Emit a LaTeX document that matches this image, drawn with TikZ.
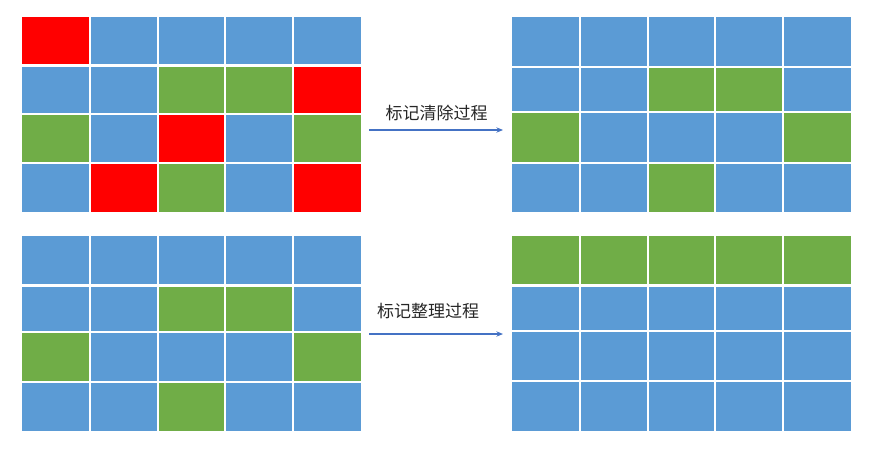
\documentclass[tikz,border=0pt]{standalone}
\usepackage{fontspec}
\newfontfamily\cjk{Noto Sans CJK SC}
\usetikzlibrary{arrows.meta}
\definecolor{cB}{HTML}{5B9BD5}
\definecolor{cG}{HTML}{70AD47}
\definecolor{cR}{HTML}{FF0000}
\definecolor{arr}{HTML}{4472C4}
\newcommand\gridrow[4]{\foreach \c [count=\i] in {#4}{\fill[\c] ({#1+(\i-1)*67.8},#2) rectangle ({#1+\i*67.8},#3);}}
\newcommand\gridlines[6]{%
 \foreach \i in {1,...,4}{\draw[cellsep] ({#1+\i*67.8},#2) -- ({#1+\i*67.8},#6);}
 \draw[cellsep,line width=2.2pt] (#1,#3) -- ++(339,0);
 \draw[cellsep] (#1,#4) -- ++(339,0);
 \draw[cellsep] (#1,#5) -- ++(339,0);
}
\begin{document}
\begin{tikzpicture}[x=0.75pt,y=-0.75pt,
  cellsep/.style={white,line width=1.5pt},
  flow/.style={arr,line width=0.8pt,-{Stealth[length=5pt,width=4pt]}},
  lbl/.style={font=\cjk\fontsize{12.75}{14}\selectfont,text=black!85,inner sep=0pt}]
\useasboundingbox (0,0) rectangle (874,453);
% top-left
\gridrow{22}{17}{65.5}{cR,cB,cB,cB,cB}
\gridrow{22}{65.5}{114}{cB,cB,cG,cG,cR}
\gridrow{22}{114}{163}{cG,cB,cR,cB,cG}
\gridrow{22}{163}{212}{cB,cR,cG,cB,cR}
\gridlines{22}{17}{65.5}{114}{163}{212}
% top-right
\gridrow{512}{17}{67}{cB,cB,cB,cB,cB}
\gridrow{512}{67}{112}{cB,cB,cG,cG,cB}
\gridrow{512}{112}{162.5}{cG,cB,cB,cB,cG}
\gridrow{512}{162.5}{212}{cB,cB,cG,cB,cB}
\gridlines{512}{17}{67}{112}{162.5}{212}
% bottom-left
\gridrow{22}{236}{285.5}{cB,cB,cB,cB,cB}
\gridrow{22}{285.5}{331.5}{cB,cB,cG,cG,cB}
\gridrow{22}{331.5}{381.5}{cG,cB,cB,cB,cG}
\gridrow{22}{381.5}{431}{cB,cB,cG,cB,cB}
\gridlines{22}{236}{285.5}{331.5}{381.5}{431}
% bottom-right
\gridrow{512}{236}{285.5}{cG,cG,cG,cG,cG}
\gridrow{512}{285.5}{331}{cB,cB,cB,cB,cB}
\gridrow{512}{331}{381}{cB,cB,cB,cB,cB}
\gridrow{512}{381}{431}{cB,cB,cB,cB,cB}
\gridlines{512}{236}{285.5}{331}{381}{431}
% arrows and labels
\coordinate (a1s) at (369,130);
\coordinate (a1e) at (503,130);
\draw[flow] (a1s) -- (a1e);
\node[lbl] (t1) at (436.5,113) {标记清除过程};
\coordinate (a2s) at (369,334);
\coordinate (a2e) at (503,334);
\draw[flow] (a2s) -- (a2e);
\node[lbl] (t2) at (428,311) {标记整理过程};
\end{tikzpicture}
\end{document}
